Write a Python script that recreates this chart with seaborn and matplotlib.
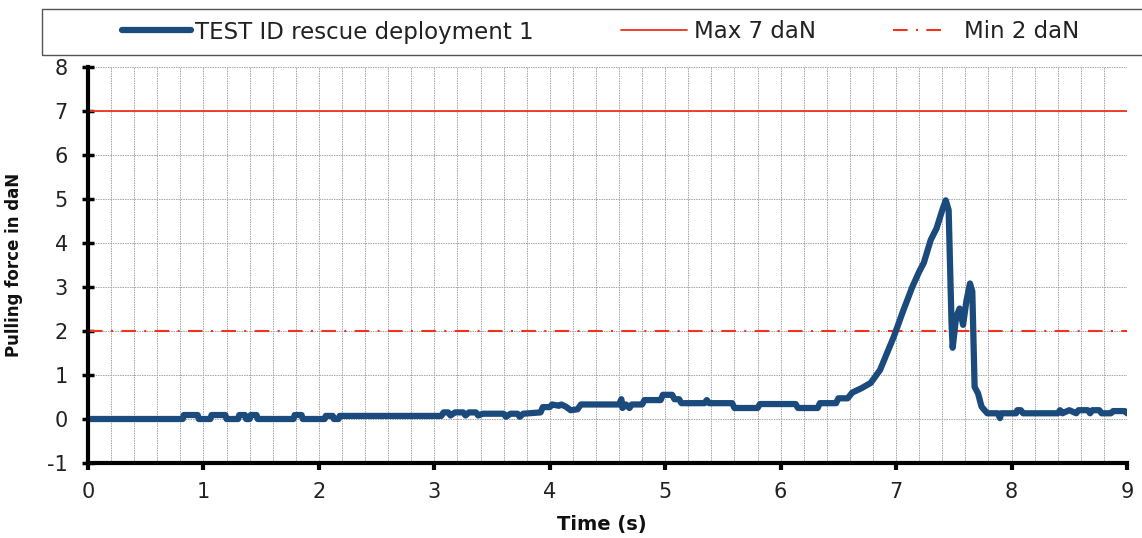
import numpy as np
import pandas as pd
import seaborn as sns
import matplotlib.pyplot as plt
from matplotlib.lines import Line2D
from matplotlib.patches import Rectangle

# Pulling force recorded during the rescue deployment test
time_s = [
    0.00, 0.82, 0.83, 0.95, 0.96, 1.06, 1.07, 1.19, 1.20, 1.30, 1.31, 1.36,
    1.37, 1.40, 1.41, 1.46, 1.47, 1.78, 1.79, 1.85, 1.86, 2.05, 2.06, 2.12,
    2.13, 2.17, 2.18, 2.25, 3.06, 3.08, 3.12, 3.14, 3.18, 3.25, 3.27, 3.30,
    3.36, 3.38, 3.42, 3.60, 3.62, 3.66, 3.72, 3.74, 3.77, 3.92, 3.94, 4.00,
    4.02, 4.08, 4.10, 4.14, 4.18, 4.24, 4.27, 4.60, 4.62, 4.63, 4.66, 4.69,
    4.71, 4.80, 4.82, 4.96, 4.98, 5.06, 5.08, 5.12, 5.14, 5.34, 5.36, 5.38,
    5.58, 5.60, 5.80, 5.82, 6.13, 6.15, 6.32, 6.34, 6.48, 6.50, 6.58, 6.62,
    6.70, 6.78, 6.86, 6.98, 7.06, 7.14, 7.20, 7.24, 7.30, 7.35, 7.40, 7.43,
    7.455, 7.48, 7.49, 7.52, 7.55, 7.58, 7.61, 7.64, 7.66, 7.68, 7.71, 7.74,
    7.79, 7.88, 7.90, 7.91, 8.04, 8.05, 8.08, 8.10, 8.40, 8.42, 8.44, 8.50,
    8.56, 8.58, 8.66, 8.68, 8.70, 8.76, 8.78, 8.86, 8.88, 8.98, 9.00,
]
force_dan = [
    0.00, 0.00, 0.09, 0.09, 0.00, 0.00, 0.09, 0.09, 0.00, 0.00, 0.09, 0.09,
    0.00, 0.00, 0.09, 0.09, 0.00, 0.00, 0.09, 0.09, 0.00, 0.00, 0.07, 0.07,
    0.00, 0.00, 0.07, 0.07, 0.07, 0.15, 0.15, 0.08, 0.15, 0.15, 0.08, 0.15,
    0.15, 0.08, 0.12, 0.12, 0.05, 0.12, 0.12, 0.05, 0.12, 0.15, 0.27, 0.27,
    0.33, 0.30, 0.33, 0.28, 0.20, 0.22, 0.33, 0.33, 0.45, 0.25, 0.33, 0.25,
    0.33, 0.33, 0.43, 0.43, 0.55, 0.55, 0.45, 0.45, 0.36, 0.36, 0.43, 0.36,
    0.36, 0.25, 0.25, 0.34, 0.34, 0.25, 0.25, 0.36, 0.36, 0.47, 0.47, 0.60,
    0.70, 0.82, 1.11, 1.87, 2.45, 3.00, 3.35, 3.55, 4.07, 4.33, 4.75, 4.97,
    4.75, 2.18, 1.62, 2.32, 2.51, 2.14, 2.70, 3.08, 2.90, 0.73, 0.58, 0.28,
    0.13, 0.13, 0.02, 0.13, 0.13, 0.20, 0.20, 0.13, 0.13, 0.20, 0.13, 0.20,
    0.13, 0.20, 0.20, 0.13, 0.20, 0.20, 0.13, 0.13, 0.18, 0.18, 0.13,
]
max_limit = 7
min_limit = 2
x_ticks = [0, 1, 2, 3, 4, 5, 6, 7, 8, 9]
y_ticks = [-1, 0, 1, 2, 3, 4, 5, 6, 7, 8]
series_label = "TEST ID rescue deployment 1"
max_label = "Max 7 daN"
min_label = "Min 2 daN"
x_title = "Time (s)"
y_title = "Pulling force in daN"

BLUE = "#1b4b7c"
RED = "#f0321e"
GRID = "#a3a3a3"
MIN_DASH = (0, (7, 4, 1, 4))

sns.set_theme(style="white")
plt.rcParams["font.family"] = ["DejaVu Sans"]
plt.rcParams["axes.unicode_minus"] = False

W, H = 1142, 538
fig = plt.figure(figsize=(W / 100, H / 100), dpi=100)
ax = fig.add_axes([88 / W, 1 - 463 / H, (1127 - 88) / W, (463 - 67) / H])

df = pd.DataFrame({"time": time_s, "force": force_dan})
sns.lineplot(data=df, x="time", y="force", ax=ax, color=BLUE, lw=4.5,
             sort=False, estimator=None, zorder=5)
ax.axhline(max_limit, color=RED, lw=1.3, zorder=4)
ax.axhline(min_limit, color=RED, lw=1.5, ls=MIN_DASH, zorder=4)

ax.set_xlim(x_ticks[0], x_ticks[-1])
ax.set_ylim(y_ticks[0], y_ticks[-1])
ax.set_xticks(x_ticks)
ax.set_yticks(y_ticks)
ax.set_xticks(np.linspace(x_ticks[0], x_ticks[-1], 46), minor=True)
ax.grid(which="major", axis="both", color=GRID, lw=0.7, ls=(0, (1.5, 1)))
ax.grid(which="minor", axis="x", color=GRID, lw=0.7, ls=(0, (1.5, 1)))
ax.set_axisbelow(True)

for side in ("top", "right"):
    ax.spines[side].set_visible(False)
for side in ("left", "bottom"):
    ax.spines[side].set_color("black")
    ax.spines[side].set_linewidth(3)
    ax.spines[side].set_zorder(6)

ax.tick_params(axis="y", which="major", left=True, direction="inout",
               length=9, width=2.5, color="black", labelsize=15, pad=10,
               labelcolor="#222222")
ax.tick_params(axis="x", which="major", bottom=True, direction="out",
               length=5, width=3, color="black", labelsize=15, pad=9,
               labelcolor="#222222")
ax.tick_params(axis="x", which="minor", bottom=False)

ax.set_xlabel(x_title, fontsize=14, fontweight="bold", color="#111111")
ax.set_ylabel(y_title, fontsize=12, fontweight="bold", color="#111111")
ax.xaxis.set_label_coords(0.495, -0.132)
ax.yaxis.set_label_coords(-0.0625, 0.5)

# Legend frame spanning the top of the figure
fig.add_artist(Rectangle((42 / W, 1 - 55 / H), 1.2, 46 / H,
                         transform=fig.transFigure, fill=False,
                         edgecolor="#555555", lw=1.0))

legend_y = 1 - 32 / H
entries = [
    (Line2D([], [], color=BLUE, lw=4.5), series_label, 122, 3.0, 0.2),
    (Line2D([], [], color=RED, lw=1.3), max_label, 621, 2.9, 0.3),
    (Line2D([], [], color=RED, lw=1.5, ls=MIN_DASH), min_label, 893, 2.4, 0.7),
]
for handle, label, x0, hlen, hpad in entries:
    fig.legend(handles=[handle], labels=[label], loc="center left",
               bbox_to_anchor=(x0 / W, legend_y), frameon=False,
               borderpad=0, borderaxespad=0, fontsize=16.5,
               handlelength=hlen, handletextpad=hpad,
               labelcolor="#222222")

fig.savefig("out.png", dpi=100)
